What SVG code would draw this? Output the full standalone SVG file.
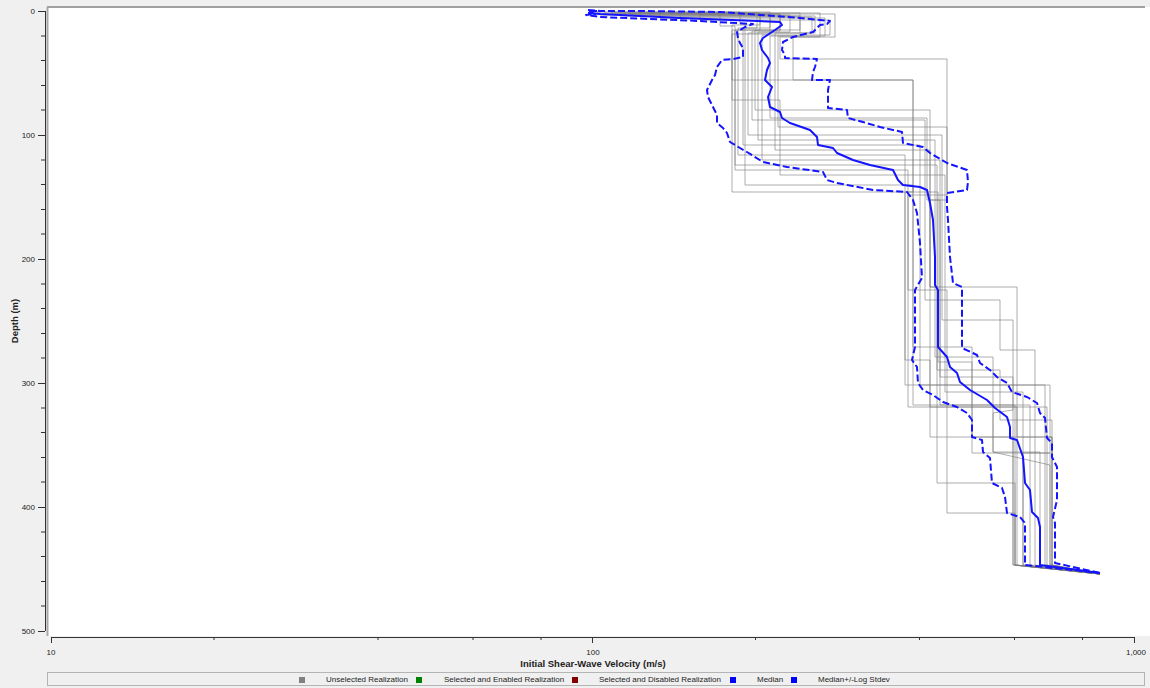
<svg xmlns="http://www.w3.org/2000/svg" width="1150" height="688" viewBox="0 0 1150 688">
<style>
text{font-family:"Liberation Sans",Arial,sans-serif;fill:#222}
.tick{font-size:8px}
.title{font-size:9.5px;font-weight:bold}
.leg{font-size:8px}
.ax{stroke:#333;stroke-width:1;fill:none}
.real{fill:none;stroke:#7a7a7a;stroke-opacity:0.6;stroke-width:1}
.med{fill:none;stroke:#1414ff;stroke-width:2;stroke-linejoin:round}
.sd{fill:none;stroke:#1414ff;stroke-width:2;stroke-dasharray:7 3;stroke-linejoin:round}
</style>
<rect x="0" y="0" width="1150" height="688" fill="#f0f0f0"/>
<g id="plot-area">
<rect x="47" y="7" width="1103" height="629" fill="#ffffff"/>
<line x1="47" y1="7" x2="1145" y2="7" stroke="#a0a0a0" stroke-width="2"/>
<line x1="47.5" y1="7" x2="47.5" y2="636" stroke="#a8a8a8" stroke-width="2"/>
</g>
<g id="y-axis">
<path class="ax" d="M45.5,11 V631 M38,11.5 H45 M38,135.5 H45 M38,259.5 H45 M38,383.5 H45 M38,507.5 H45 M38,631.5 H45 M41,36 H45 M41,60.5 H45 M41,85.5 H45 M41,110 H45 M41,160 H45 M41,184.5 H45 M41,209.5 H45 M41,234 H45 M41,284 H45 M41,308.5 H45 M41,333.5 H45 M41,358 H45 M41,408 H45 M41,432.5 H45 M41,457.5 H45 M41,482 H45 M41,532 H45 M41,556.5 H45 M41,581.5 H45 M41,606 H45"/>
<g class="tick" text-anchor="end">
<text x="35" y="14">0</text>
<text x="35" y="138">100</text>
<text x="35" y="262">200</text>
<text x="35" y="386">300</text>
<text x="35" y="510">400</text>
<text x="35" y="634">500</text>
</g>
<text class="title" transform="translate(18,321) rotate(-90)" text-anchor="middle">Depth (m)</text>
</g>
<g id="x-axis">
<path class="ax" d="M51,637.5 H1134 M51.5,637 V643 M592.5,637 V643 M1134.5,637 V643 M214,637 V640 M378,637 V640 M473,637 V640 M541,637 V640 M755.5,637 V640 M919.5,637 V640 M1014.5,637 V640 M1082.5,637 V640"/>
<g class="tick" text-anchor="middle">
<text x="51" y="655">10</text>
<text x="593" y="655">100</text>
<text x="1136" y="655">1,000</text>
</g>
<text class="title" x="593" y="667" text-anchor="middle">Initial Shear-Wave Velocity (m/s)</text>
</g>
<g id="realizations">
<path class="real" d="M605,11 V13 H760 V25 H732 V192 H913 V405 H1015 V565 L1100,574"/>
<path class="real" d="M612,11 V14 H835 V37 H780 V59 H947 V195 H908 V407 H1047 V565 L1100,574"/>
<path class="real" d="M640,11 V16 H800 V30 H755 V110 H930 V287 H1017 V437 H1052 V565 L1100,574"/>
<path class="real" d="M595,11 V12 H770 V34 H732 V80 H913 V192 H938 V362 H972 V453 H1050 V565 L1100,574"/>
<path class="real" d="M660,11 V18 H825 V36 H778 V127 H947 V200 H930 V437 H1013 V565 L1100,574"/>
<path class="real" d="M620,11 V13 H757 V28 H743 V145 H920 V385 H1050 V453 H1023 V565 L1100,574"/>
<path class="real" d="M700,11 V20 H830 V35 H762 V160 H940 V377 H1013 V565 L1100,574"/>
<path class="real" d="M598,11 V14 H720 V26 H735 V170 H908 V290 H947 V513 H1015 V565 L1100,574"/>
<path class="real" d="M650,11 V15 H790 V32 H758 V140 H935 V357 H993 V452 H1040 V565 L1100,574"/>
<path class="real" d="M610,11 V12 H740 V24 H745 V185 H913 V347 H972 V437 H1052 V565 L1100,574"/>
<path class="real" d="M680,11 V17 H812 V33 H775 V150 H930 V287 H937 V483 H1015 V565 L1100,574"/>
<path class="real" d="M630,11 V14 H780 V30 H732 V100 H780 V175 H945 V392 H1023 V565 L1100,574"/>
<path class="real" d="M615,11 V13 H800 V36 H770 V118 H927 V200 H940 V405 H1030 V565 L1100,574"/>
<path class="real" d="M600,11 V15 H770 V28 H738 V155 H905 V360 H930 V407 H1017 V565 L1100,574"/>
<path class="real" d="M640,11 V13 H820 V37 H793 V80 H913 V192 H905 V385 H1045 V565 L1100,574"/>
<path class="real" d="M700,11 V15 H760 V30 H735 V165 H937 V370 H1000 V420 H1052 V565 L1100,574"/>
<path class="real" d="M625,11 V16 H815 V33 H748 V135 H942 V320 H1013 V410 L993,413 V452 L1050,465 V565 L1100,574"/>
<path class="real" d="M670,11 V14 H780 V31 H752 V120 H925 V300 H1000 V350 H1035 V565 L1100,574"/>
</g>
<g id="median-curves">
<path class="sd" d="M588,10 L600,11 L640,11 L720,12 L760,15 L800,18 L830,21 L827,24 L820,25 L813,32 L793,37 L783,42 L782,50 L785,55 L785,58 L817,59 L815,67 L813,72 L812,80 L830,80 L828,90 L828,108 L847,110 L848,118 L863,122 L880,127 L902,132 L903,143 L923,147 L930,153 L947,163 L967,170 L968,182 L967,190 L947,193 L947,207 L948,220 L950,257 L953,283 L962,287 L962,348 L977,355 L980,363 L990,370 L997,377 L1007,383 L1012,392 L1027,397 L1037,403 L1040,413 L1045,418 L1047,438 L1052,443 L1052,457 L1057,467 L1057,500 L1053,517 L1055,523 L1055,563 L1100,573"/>
<path class="med" d="M588,13 L600,14 L680,18 L780,22 L782,25 L775,30 L763,38 L760,43 L762,50 L768,58 L770,63 L767,70 L765,80 L772,87 L768,97 L770,107 L780,112 L782,118 L790,123 L810,130 L817,137 L818,145 L833,148 L837,153 L853,160 L870,165 L893,170 L898,180 L903,185 L920,187 L927,190 L930,203 L933,220 L935,257 L935,285 L938,290 L938,347 L947,357 L950,367 L957,373 L960,382 L970,390 L987,400 L995,408 L1007,417 L1010,427 L1010,438 L1017,440 L1023,457 L1025,483 L1030,490 L1032,512 L1038,518 L1040,527 L1040,565 L1100,573"/>
<path class="sd" d="M597,11 L588,11 L595,14 L586,15 L600,17 L650,19 L700,21 L753,24 L745,27 L737,32 L738,38 L740,43 L743,48 L743,57 L733,59 L722,60 L717,67 L715,75 L712,80 L707,90 L708,97 L713,107 L717,115 L717,123 L723,128 L727,133 L730,142 L740,148 L747,152 L763,162 L787,167 L823,172 L827,180 L837,183 L873,190 L907,192 L913,200 L917,213 L920,243 L922,278 L915,290 L915,347 L912,360 L917,367 L918,383 L923,390 L933,395 L943,402 L957,407 L967,413 L972,420 L972,437 L982,440 L983,452 L990,458 L992,483 L1002,488 L1005,497 L1007,513 L1020,517 L1025,523 L1025,565 L1100,573"/>
</g>
<g id="legend">
<rect x="47.5" y="672.5" width="1097" height="13" fill="#f0f0f0" stroke="#b4b4b4" stroke-width="1"/>
<rect x="299" y="677" width="6" height="6" fill="#808080"/>
<text class="leg" x="326" y="682">Unselected Realization</text>
<rect x="416" y="677" width="6" height="6" fill="#008000"/>
<text class="leg" x="444" y="682">Selected and Enabled Realization</text>
<rect x="572" y="677" width="6" height="6" fill="#800000"/>
<text class="leg" x="599" y="682">Selected and Disabled Realization</text>
<rect x="730" y="677" width="6" height="6" fill="#0000ff"/>
<text class="leg" x="757" y="682">Median</text>
<rect x="791" y="677" width="6" height="6" fill="#0000ff"/>
<text class="leg" x="818" y="682">Median+/-Log Stdev</text>
</g>
</svg>
